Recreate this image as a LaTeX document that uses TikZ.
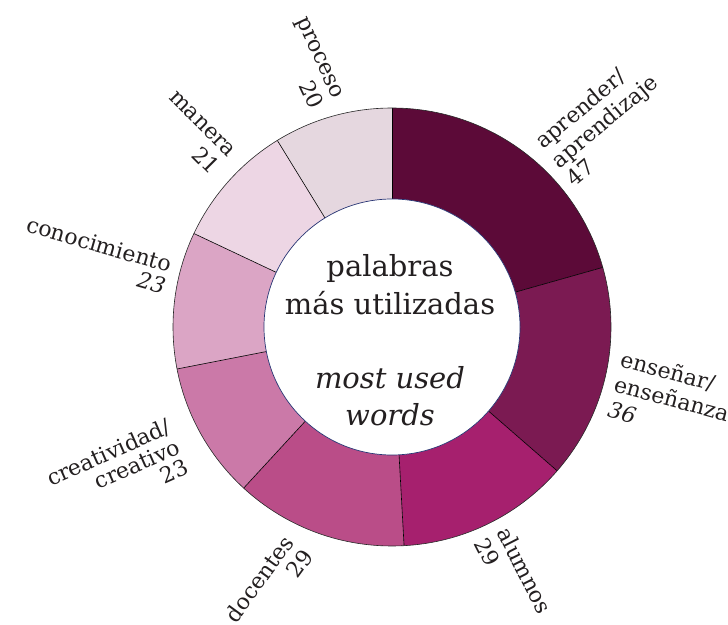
\documentclass[tikz,border=0pt]{standalone}
\usepackage{fontspec}
\setmainfont{DejaVu Serif}
\usetikzlibrary{calc}
\definecolor{cA}{RGB}{92,10,56}
\definecolor{cB}{RGB}{123,26,82}
\definecolor{cC}{RGB}{166,32,110}
\definecolor{cD}{RGB}{186,77,136}
\definecolor{cE}{RGB}{203,121,168}
\definecolor{cF}{RGB}{219,165,197}
\definecolor{cG}{RGB}{237,214,228}
\definecolor{cH}{RGB}{229,215,223}
\definecolor{txt}{RGB}{35,31,32}
\definecolor{holeline}{RGB}{40,52,115}
\begin{document}
\begin{tikzpicture}[x=1pt,y=1pt,
  lbl/.style={font=\fontsize{22}{24}\selectfont, text=txt, inner sep=0pt},
  lbli/.style={font=\fontsize{22}{24}\selectfont\itshape, text=txt, inner sep=0pt},
  ctr/.style={font=\fontsize{29}{35}\selectfont, text=txt, inner sep=0pt, anchor=base},
  ctri/.style={font=\fontsize{29}{35}\selectfont\itshape, text=txt, inner sep=0pt, anchor=base},
  divider/.style={draw=black, line width=0.6pt},
  rim/.style={draw=black!85, line width=0.6pt}]
\useasboundingbox (0,0) rectangle (728,624);
\coordinate (C) at (392,297);
\def\Rout{219}
\def\Rin{128}
% segments
\foreach \a/\b/\c in {90/15.789/cA, 15.789/-41.053/cB, -41.053/-86.842/cC,
  -86.842/-132.632/cD, -132.632/-168.947/cE, -168.947/-205.263/cF,
  -205.263/-238.421/cG, -238.421/-270/cH}{
  \fill[\c] ($(C)+(\a:\Rout)$) arc[start angle=\a, end angle=\b, radius=\Rout]
    -- ($(C)+(\b:\Rin)$) arc[start angle=\b, end angle=\a, radius=\Rin] -- cycle;
}
\foreach \a in {90,15.789,-41.053,-86.842,-132.632,-168.947,-205.263,-238.421}{
  \draw[divider] ($(C)+(\a:\Rin)$) -- ($(C)+(\a:\Rout)$);
}
\draw[rim] (C) circle[radius=\Rout];
\node[circle, fill=white, draw=holeline, line width=0.7pt, minimum size=256pt, inner sep=0pt] (hole) at (C) {};
% centre text
\node[ctr] (t1) at (390,347) {palabras};
\node[ctr] (t2) at (390,309) {más utilizadas};
\node[ctri] (t3) at (390,235) {most used};
\node[ctri] (t4) at (390,198) {words};
% aprender
\node[lbl, rotate=40, anchor=base west] (ap1) at (543,474) {aprender/};
\node[lbl, rotate=40, anchor=base west] (ap2) at ($(ap1.base west)+(-50:25)$) {aprendizaje};
\node[lbl, rotate=40, anchor=base west] (ap3) at ($(ap2.base west)+(-50:24)$) {47};
% ensenar
\node[lbl, rotate=-15, anchor=base west] (en1) at (619,258) {enseñar/};
\node[lbl, rotate=-15, anchor=base west] (en2) at ($(en1.base west)+(-104:26)$) {enseñanza};
\node[lbli, rotate=-15, anchor=base west] (en3) at ($(en2.base west)+(-104:26)$) {36};
% alumnos
\node[lbl, rotate=-63, anchor=base west] (al1) at (496,92) {alumnos};
\node[lbl, rotate=-63, anchor=base west] (al2) at ($(al1.base west)+(-153:25)$) {29};
% docentes
\node[lbl, rotate=54, anchor=base east] (do1) at (295,81) {docentes};
\node[lbl, rotate=54, anchor=base east] (do2) at ($(do1.base east)+(-36:24)$) {29};
% creatividad
\node[lbl, rotate=24, anchor=base east] (cr1) at (172.7,191.3) {creatividad/};
\node[lbl, rotate=24, anchor=base east] (cr2) at ($(cr1.base east)+(-66:22)$) {creativo};
\node[lbl, rotate=24, anchor=base east] (cr3) at ($(cr2.base east)+(-66:22)$) {23};
% conocimiento
\node[lbl, rotate=-16, anchor=base east] (co1) at (169.3,351.3) {conocimiento};
\node[lbli, rotate=-16, anchor=base east] (co2) at ($(co1.base east)+(-106:22.6)$) {23};
% manera
\node[lbl, rotate=-45, anchor=base east] (ma1) at (228.3,465.7) {manera};
\node[lbl, rotate=-45, anchor=base east] (ma2) at ($(ma1.base east)+(-135:25)$) {21};
% proceso
\node[lbl, rotate=-65, anchor=base east] (pr1) at (333.3,524) {proceso};
\node[lbl, rotate=-65, anchor=base east] (pr2) at ($(pr1.base east)+(-155:25)$) {20};
\end{tikzpicture}
\end{document}
